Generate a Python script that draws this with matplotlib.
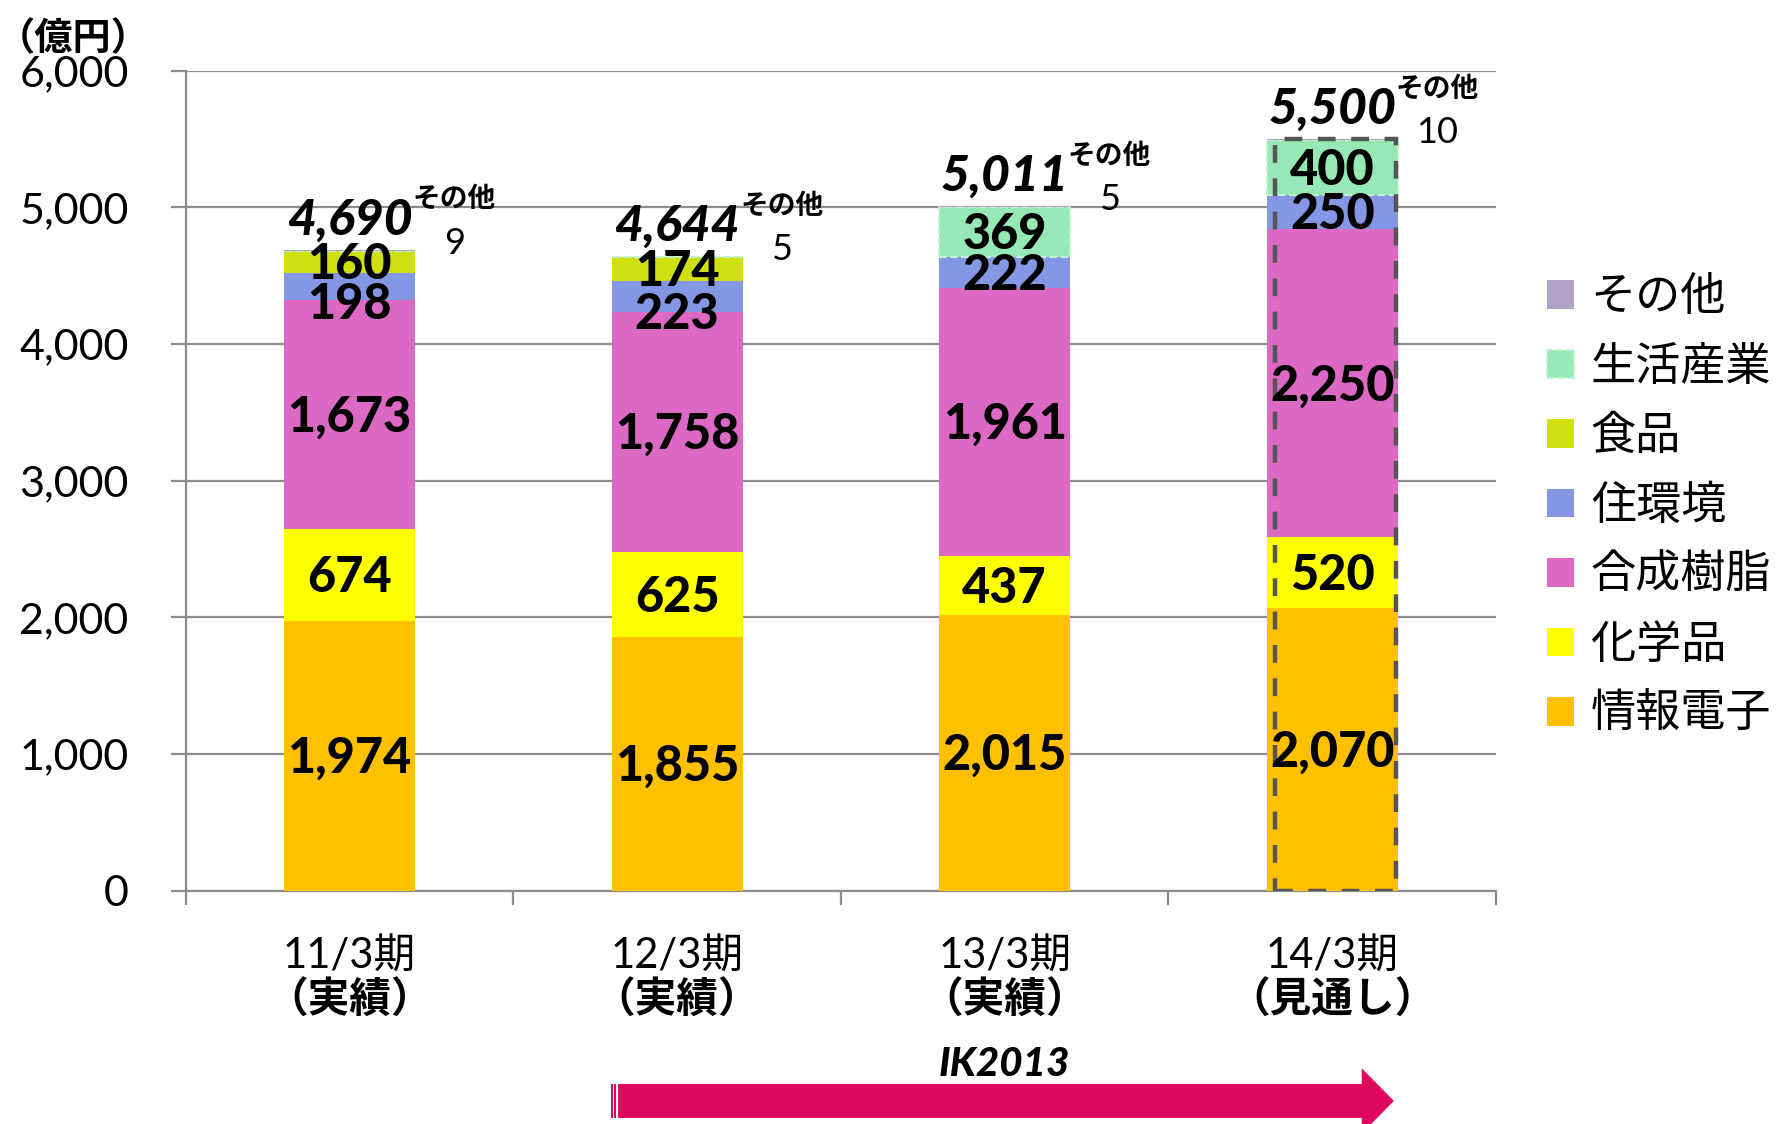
import matplotlib
matplotlib.use('Agg')
import matplotlib.pyplot as plt
import matplotlib.transforms as mtransforms
from matplotlib.patches import Polygon, Rectangle
import numpy as np

plt.rcParams['font.family'] = ['Lato', 'Noto Sans CJK JP', 'DejaVu Sans']

# Data
periods = ['11/3期', '12/3期', '13/3期', '14/3期']
period_notes = ['（実績）', '（実績）', '（実績）', '（見通し）']
segments = ['情報電子', '化学品', '合成樹脂', '住環境', '食品', '生活産業', 'その他']
info_elec = [1974, 1855, 2015, 2070]
chemicals = [674, 625, 437, 520]
resins = [1673, 1758, 1961, 2250]
housing = [198, 223, 222, 250]
foods = [160, 174, 0, 0]
living = [0, 0, 369, 400]
others = [9, 5, 5, 10]
totals = [4690, 4644, 5011, 5500]
colors = ['#FFC000', '#FFFF00', '#DC69C3', '#8497E5', '#D0DF10', '#96E8B4', '#B3A2C7']

series = [info_elec, chemicals, resins, housing, foods, living, others]

fig = plt.figure(figsize=(17.8, 11.24), dpi=100)
ax = fig.add_axes([0.1043, 0.2076, 0.7362, 0.7294])

x = np.arange(len(periods))
width = 0.40
bottom = np.zeros(len(periods))
handles = []
for vals, name, col in zip(series, segments, colors):
    vals = np.array(vals, dtype=float)
    if name == '生活産業':
        bars = ax.bar(x, vals, width, bottom=bottom, color=col, label=name,
                      edgecolor='#C2F2D3', linestyle='--', linewidth=1.5, zorder=3)
    else:
        bars = ax.bar(x, vals, width, bottom=bottom, color=col, label=name,
                      linewidth=0, zorder=3)
    handles.append(bars)
    # segment labels (skip empty ones and the tiny "other" segment)
    if name != 'その他':
        for i, v in enumerate(vals):
            if v <= 0:
                continue
            yc = bottom[i] + v / 2 - 20
            if name == '住環境' and i < 2:
                yc -= 110
            ax.text(x[i], yc, f'{int(v):,}', ha='center', va='center',
                    fontsize=35, fontweight='black', color='black', zorder=5)
    bottom += vals

# totals and "その他" annotations
for i, t in enumerate(totals):
    ax.text(x[i], t + 220, f'{t:,}', ha='center', va='center', fontsize=36,
            fontweight='black', fontstyle='italic', zorder=5)
    ax.text(x[i] + 0.32, t + 370, 'その他', ha='center', va='center',
            fontsize=20, fontweight='bold', zorder=5)
    ax.text(x[i] + 0.32, t + 45, f'{others[i]}', ha='center', va='center',
            fontsize=26, zorder=5)

# dashed outline around the forecast bar
ax.bar(x[3] + 0.01, totals[3], 0.37, bottom=0, fill=False, edgecolor='#555555',
       linestyle=(0, (4, 3.5)), linewidth=3.2, zorder=4)

# axes styling
ax.set_ylim(0, 6000)
ax.set_xlim(-0.5, 3.5)
ax.set_yticks(np.arange(0, 6001, 1000))
ax.set_yticklabels([f'{v:,}' for v in range(0, 6001, 1000)], fontsize=31)
ax.yaxis.grid(True, color='#8C8C8C', linewidth=1.6, zorder=0)
ax.set_axisbelow(True)
ax.tick_params(axis='y', length=11, width=1.6, color='#8C8C8C', pad=30)
ax.set_xticks(np.arange(-0.5, 4.0, 1.0))
ax.set_xticklabels([])
ax.tick_params(axis='x', length=10, width=1.6, color='#8C8C8C')
for s in ['top', 'right']:
    ax.spines[s].set_visible(False)
for s in ['left', 'bottom']:
    ax.spines[s].set_color('#8C8C8C')
    ax.spines[s].set_linewidth(1.6)

xt = mtransforms.blended_transform_factory(ax.transData, ax.transAxes)
for i, (p, n) in enumerate(zip(periods, period_notes)):
    ax.text(x[i], -0.080, p, transform=xt, ha='center', va='center', fontsize=30)
    ax.text(x[i], -0.133, n, transform=xt, ha='center', va='center',
            fontsize=30, fontweight='bold')

# unit label
fig.text(0.041, 0.966, '（億円）', ha='center', va='center', fontsize=27.5,
         fontweight='bold')

# legend (reversed order)
leg = fig.legend(handles[::-1], segments[::-1], loc='center left',
                 bbox_to_anchor=(0.846, 0.550), frameon=False,
                 handlelength=0.6, handleheight=0.6, handletextpad=0.38,
                 labelspacing=0.52, prop={'family': ['Noto Sans CJK JP'], 'size': 32.5})

# IK2013 arrow
ft = mtransforms.blended_transform_factory(ax.transData, fig.transFigure)
x0, x1, xh = 0.82, 3.188, 3.09
yc, hb, hh = 0.0205, 0.0151, 0.0290
arrow = Polygon([(x0, yc - hb), (xh, yc - hb), (xh, yc - hh), (x1, yc),
                 (xh, yc + hh), (xh, yc + hb), (x0, yc + hb)],
                closed=True, transform=ft, facecolor='#E0085E', edgecolor='none',
                clip_on=False)
fig.add_artist(arrow)
for sx in [0.798, 0.808]:
    fig.add_artist(Rectangle((sx, yc - hb), 0.006, 2 * hb, transform=ft,
                             facecolor='#E0085E', edgecolor='none', clip_on=False))
fig.text(2.0, 0.053, 'IK2013', transform=ft, ha='center', va='center',
         fontsize=29, fontweight='black', fontstyle='italic')

fig.savefig('out.png', dpi=100)
